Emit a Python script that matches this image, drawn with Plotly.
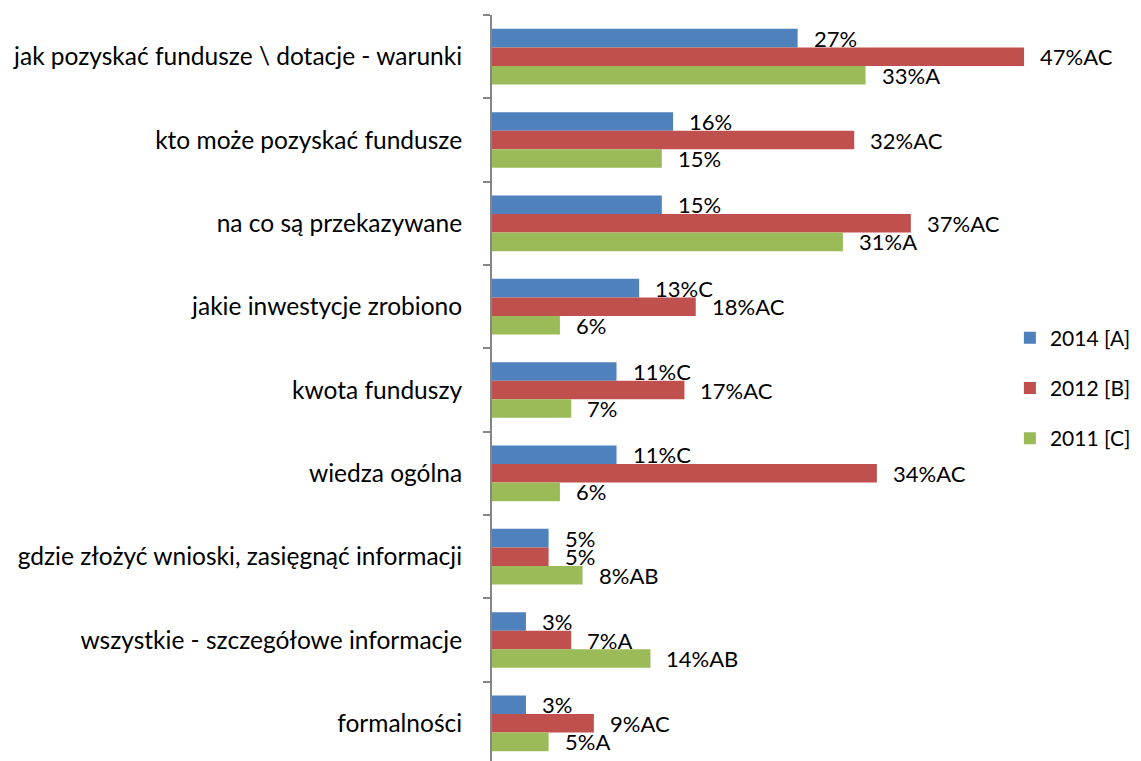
import plotly.graph_objects as go

categories = [
    "jak pozyskać fundusze \\ dotacje - warunki",
    "kto może pozyskać fundusze",
    "na co są przekazywane",
    "jakie inwestycje zrobiono",
    "kwota funduszy",
    "wiedza ogólna",
    "gdzie złożyć wnioski, zasięgnąć informacji",
    "wszystkie - szczegółowe informacje",
    "formalności",
]

series_names = ["2014 [A]", "2012 [B]", "2011 [C]"]
values_2014 = [27, 16, 15, 13, 11, 11, 5, 3, 3]
values_2012 = [47, 32, 37, 18, 17, 34, 5, 7, 9]
values_2011 = [33, 15, 31, 6, 7, 6, 8, 14, 5]

suffix_2014 = ["", "", "", "C", "C", "C", "", "", ""]
suffix_2012 = ["AC", "AC", "AC", "AC", "AC", "AC", "", "A", "AC"]
suffix_2011 = ["A", "", "A", "", "", "", "AB", "AB", "A"]

colors = ["#4F81BD", "#C0504D", "#9BBB59"]
FONT = "Lato"

series = [
    (series_names[0], values_2014, suffix_2014, colors[0]),
    (series_names[1], values_2012, suffix_2012, colors[1]),
    (series_names[2], values_2011, suffix_2011, colors[2]),
]

fig = go.Figure()
for name, vals, suf, col in series:
    fig.add_trace(go.Bar(
        y=categories, x=vals, name=name, orientation="h",
        legendgroup=name,
        marker=dict(color=col, line=dict(width=0)),
        hoverinfo="skip",
    ))

# value labels placed just past the end of each bar
bar_px = 18.56
shifts = [bar_px, 0, -bar_px]
annotations = []
for (name, vals, suf, col), ys in zip(series, shifts):
    for cat, v, s in zip(categories, vals, suf):
        annotations.append(dict(
            x=v, y=cat, xref="x", yref="y", text=f"{v}%{s}",
            showarrow=False, xanchor="left", yanchor="middle",
            xshift=14, yshift=ys,
            font=dict(family=FONT, size=22, color="#000000"),
        ))

fig.update_layout(
    width=1141, height=761,
    margin=dict(l=492, r=83, t=15, b=0),
    paper_bgcolor="white", plot_bgcolor="white",
    barmode="group", bargap=0.332, bargroupgap=0,
    annotations=annotations,
    showlegend=True,
    legend=dict(
        x=0.915, y=0.5, xanchor="left", yanchor="middle",
        font=dict(family=FONT, size=21, color="#000000"),
        tracegroupgap=20, traceorder="grouped",
        bgcolor="rgba(0,0,0,0)",
    ),
    xaxis=dict(range=[0, 50], visible=False, showgrid=False, zeroline=False),
    yaxis=dict(
        type="category", range=[8.452, -0.5],
        showline=True, linecolor="#868686", linewidth=2,
        ticks="outside", tickson="boundaries", ticklen=7,
        tickcolor="#868686", tickwidth=2,
        showgrid=False, zeroline=False,
        ticklabelstandoff=23,
        tickfont=dict(family=FONT, size=24.5, color="#000000"),
    ),
)

fig.write_html("out.html")
